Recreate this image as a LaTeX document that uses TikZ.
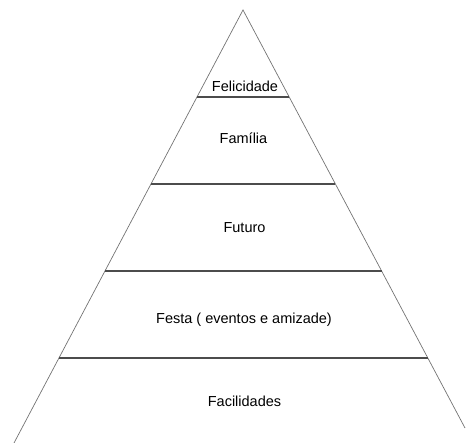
\documentclass[tikz,border=0pt]{standalone}
\usepackage{fontspec}
\setmainfont{Liberation Sans}
\begin{document}
\begin{tikzpicture}[x=1pt,y=-1pt,
  side/.style={draw=black!55, line width=0.7pt},
  tier/.style={draw=black!70, line width=1.1pt},
  lbl/.style={anchor=base, inner sep=0pt, font=\fontsize{14.5}{17}\selectfont}]
\useasboundingbox (0,0) rectangle (466,443);
\coordinate (apex) at (243,10);
\coordinate (bl) at (14,443);
\coordinate (br) at (465,428);
\draw[side] (bl) -- (apex) -- (br);
\coordinate (l1) at (197.0,97);  \coordinate (r1) at (289.2,97);
\coordinate (l2) at (151.0,184); \coordinate (r2) at (335.4,184);
\coordinate (l3) at (105.0,271); \coordinate (r3) at (381.6,271);
\coordinate (l4) at (58.9,358);  \coordinate (r4) at (427.8,358);
\draw[tier] (l1) -- (r1);
\draw[tier] (l2) -- (r2);
\draw[tier] (l3) -- (r3);
\draw[tier] (l4) -- (r4);
\node[lbl] (felicidade) at (245,92) {Felicidade};
\node[lbl] (familia) at (243.5,144) {Família};
\node[lbl] (futuro) at (244.5,233) {Futuro};
\node[lbl] (festa) at (244,324) {Festa ( eventos e amizade)};
\node[lbl] (facilidades) at (244.5,407) {Facilidades};
\end{tikzpicture}
\end{document}
